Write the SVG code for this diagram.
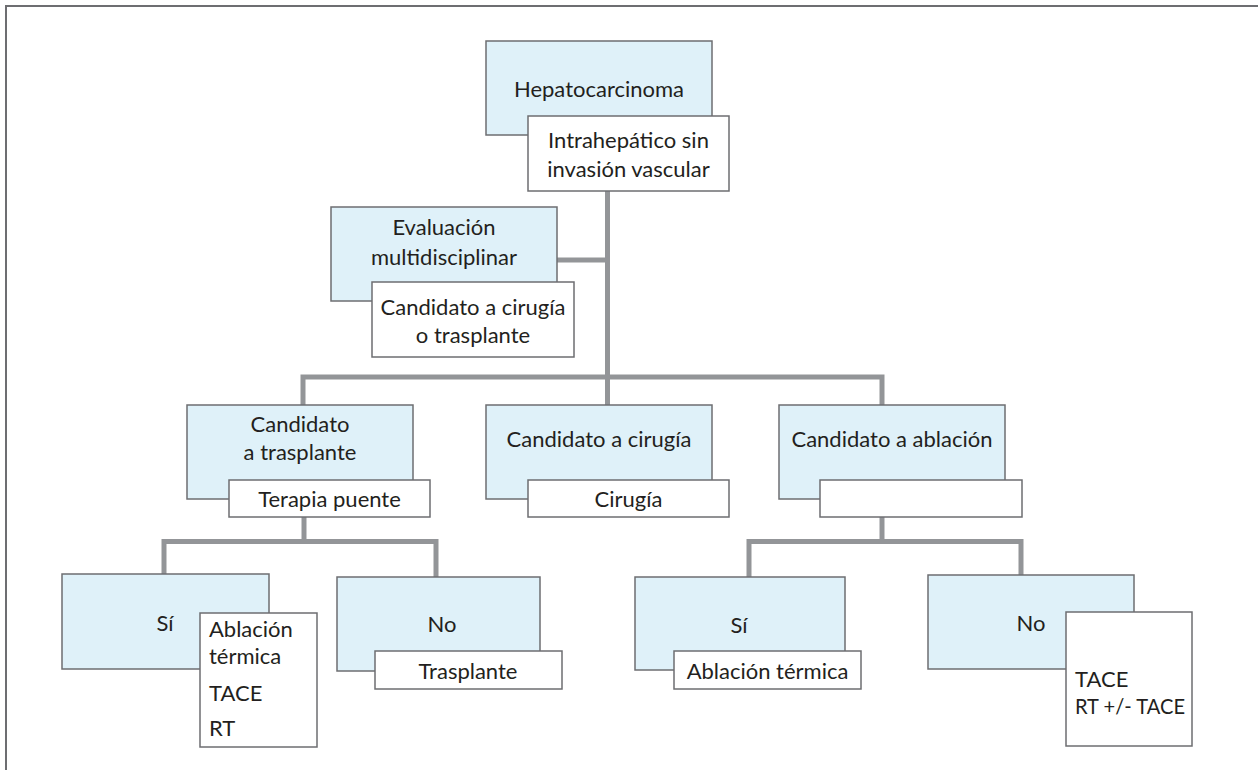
<svg xmlns="http://www.w3.org/2000/svg" width="1258" height="770" viewBox="0 0 1258 770">
<style>
.b{fill:#dff1f9;stroke:#6d6e71;stroke-width:1.5}
.w{fill:#ffffff;stroke:#6d6e71;stroke-width:1.5}
text{font-family:Lato,"Open Sans","Liberation Sans",sans-serif;font-size:22px;fill:#231f20}
.c{text-anchor:middle}
.con{fill:none;stroke:#939598;stroke-width:5;stroke-linejoin:miter}
</style>
<rect x="0" y="0" width="1258" height="770" fill="#ffffff"/>
<rect x="6" y="6" width="1262" height="775" fill="none" stroke="#6d6e71" stroke-width="2"/>
<g id="connectors">
<path class="con" d="M607.5,191 V405"/>
<path class="con" d="M557,260 H607.5"/>
<path class="con" d="M303,405 V377 H882 V405"/>
<path class="con" d="M304,517 V541.5"/>
<path class="con" d="M164,574 V541.5 H436 V577"/>
<path class="con" d="M882,517 V541.5"/>
<path class="con" d="M749,577 V541.5 H1021 V575"/>
</g>
<g id="n-hepato">
<rect class="b" x="486" y="41" width="226" height="94"/>
<text class="c" x="599" y="97">Hepatocarcinoma</text>
<rect class="w" x="528" y="116" width="201" height="75"/>
<text class="c" x="628.5" y="148">Intrahepático sin</text>
<text class="c" x="628.5" y="177">invasión vascular</text>
</g>
<g id="n-evaluacion">
<rect class="b" x="331" y="207" width="226" height="94"/>
<text class="c" x="444" y="235">Evaluación</text>
<text class="c" x="444" y="265">multidisciplinar</text>
<rect class="w" x="372" y="282" width="202" height="75"/>
<text class="c" x="473" y="315">Candidato a cirugía</text>
<text class="c" x="473" y="343">o trasplante</text>
</g>
<g id="n-trasplante">
<rect class="b" x="187" y="405" width="226" height="94"/>
<text class="c" x="300" y="432">Candidato</text>
<text class="c" x="300" y="460">a trasplante</text>
<rect class="w" x="229" y="480" width="201" height="37"/>
<text class="c" x="329.5" y="507">Terapia puente</text>
</g>
<g id="n-cirugia">
<rect class="b" x="486" y="405" width="226" height="94"/>
<text class="c" x="599" y="447">Candidato a cirugía</text>
<rect class="w" x="528" y="480" width="201" height="37"/>
<text class="c" x="628.5" y="507">Cirugía</text>
</g>
<g id="n-ablacion">
<rect class="b" x="779" y="405" width="226" height="94"/>
<text class="c" x="892" y="447">Candidato a ablación</text>
<rect class="w" x="820" y="480" width="202" height="37"/>
</g>
<g id="n-si-left">
<rect class="b" x="62" y="574" width="207" height="95"/>
<text class="c" x="165" y="631">Sí</text>
<rect class="w" x="200" y="613" width="117" height="134"/>
<text x="209" y="637">Ablación</text>
<text x="209" y="664">térmica</text>
<text x="209" y="701">TACE</text>
<text x="209" y="736">RT</text>
</g>
<g id="n-no-left">
<rect class="b" x="337" y="577" width="203" height="94"/>
<text class="c" x="442" y="632">No</text>
<rect class="w" x="375" y="651" width="187" height="38"/>
<text class="c" x="468" y="679">Trasplante</text>
</g>
<g id="n-si-right">
<rect class="b" x="635" y="577" width="210" height="93"/>
<text class="c" x="739" y="633">Sí</text>
<rect class="w" x="674" y="651" width="187" height="38"/>
<text class="c" x="767.5" y="679">Ablación térmica</text>
</g>
<g id="n-no-right">
<rect class="b" x="928" y="575" width="206" height="94"/>
<text class="c" x="1031" y="631">No</text>
<rect class="w" x="1066" y="612" width="126" height="134"/>
<text x="1075" y="687">TACE</text>
<text x="1075" y="714" textLength="110" lengthAdjust="spacingAndGlyphs">RT +/- TACE</text>
</g>
</svg>
